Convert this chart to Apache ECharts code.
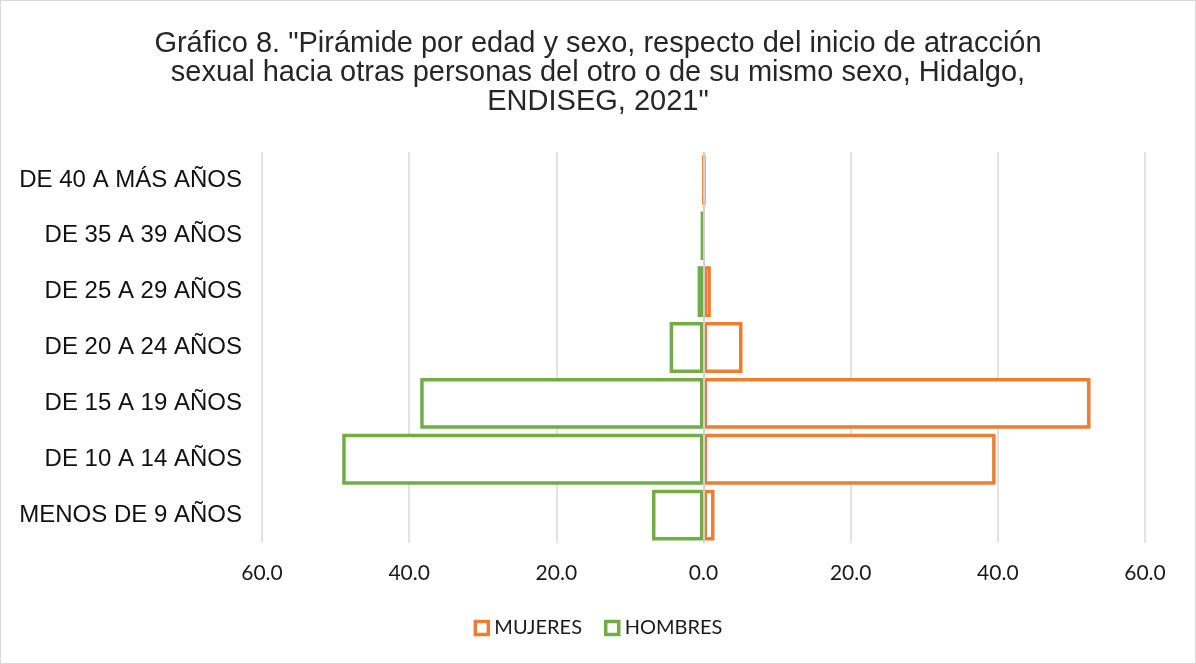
<!DOCTYPE html>
<html>
<head>
<meta charset="utf-8">
<script src="https://cdn.jsdelivr.net/npm/echarts@6/dist/echarts.min.js"></script>
<style>
    html, body { margin: 0; padding: 0; background: #fff; }
    #chart { width: 1196px; height: 664px; box-sizing: border-box; border: 1px solid #d9d9d9; }
</style>
</head>
<body>
<div id="chart"></div>
<script>
// categorias de arriba hacia abajo
var categories = ["DE 40 A MÁS AÑOS", "DE 35 A 39 AÑOS", "DE 25 A 29 AÑOS", "DE 20 A 24 AÑOS",
    "DE 15 A 19 AÑOS", "DE 10 A 14 AÑOS", "MENOS DE 9 AÑOS"];
// null = sin barra visible en el grafico
var mujeres = [0.1, null, 1.0, 5.3, 52.6, 39.7, 1.5];
var hombres = [null, 0.3, 0.8, 4.6, 38.5, 49.1, 7.0];
var tickValues = [-60, -40, -20, 0, 20, 40, 60];

var titleText = 'Gráfico 8. "Pirámide por edad y sexo, respecto del inicio de atracción\n' +
    'sexual hacia otras personas del otro o de su mismo sexo, Hidalgo,\nENDISEG, 2021"';

var myChart = echarts.init(document.getElementById('chart'));

var option = {
    animation: false,
    title: {
        text: titleText,
        left: 'center',
        top: 23,
        textStyle: {
            fontFamily: 'Liberation Sans',
            fontSize: 29,
            fontWeight: 'normal',
            color: '#262626',
            lineHeight: 29
        }
    },
    legend: {
        bottom: 20,
        left: 'center',
        itemWidth: 13,
        itemHeight: 13,
        itemGap: 22,
        icon: 'rect',
        itemStyle: { borderWidth: 3.5, color: '#fff' },
        textStyle: { fontFamily: 'Lato', fontSize: 20, color: '#1a1a1a', padding: [0, 0, 0, 1] },
        data: ['MUJERES', 'HOMBRES']
    },
    grid: {
        left: 261,
        right: 50,
        top: 151,
        bottom: 120
    },
    xAxis: {
        type: 'value',
        min: tickValues[0],
        max: tickValues[tickValues.length - 1],
        interval: 20,
        axisLine: { show: false },
        axisTick: { show: false },
        splitLine: { lineStyle: { color: '#d9d9d9', width: 1.5 } },
        axisLabel: {
            margin: 20,
            fontFamily: 'Lato',
            fontSize: 21,
            color: '#1a1a1a',
            formatter: function (v) { return Math.abs(v).toFixed(1); }
        }
    },
    yAxis: {
        type: 'category',
        inverse: true,
        data: categories,
        axisLine: { show: false },
        axisTick: { show: false },
        axisLabel: {
            margin: 20,
            fontFamily: 'Liberation Sans',
            fontSize: 24,
            color: '#111'
        }
    },
    series: [
        {
            name: 'MUJERES',
            type: 'bar',
            data: mujeres,
            barCategoryGap: '9%',
            barGap: '-100%',
            itemStyle: { color: '#ffffff', borderColor: '#ED7D31', borderWidth: 3.5 },
            markLine: {
                silent: true,
                symbol: 'none',
                label: { show: false },
                lineStyle: { color: '#d0d0d0', width: 2, type: 'solid' },
                data: [{ xAxis: 0 }],
                z: 10
            }
        },
        {
            name: 'HOMBRES',
            type: 'bar',
            data: hombres.map(function (v) { return v === null ? null : -v; }),
            barCategoryGap: '9%',
            barGap: '-100%',
            itemStyle: { color: '#ffffff', borderColor: '#70AD47', borderWidth: 3.5 }
        }
    ]
};

myChart.setOption(option);
</script>
</body>
</html>
